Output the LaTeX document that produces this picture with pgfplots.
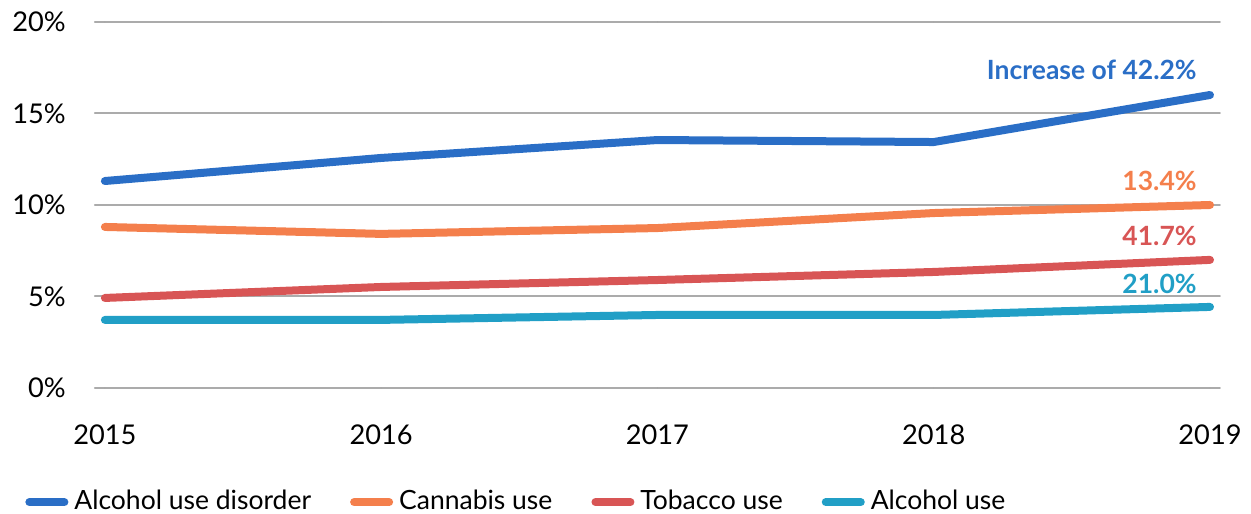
\documentclass[border=0pt]{standalone}
\usepackage{fontspec}
\setmainfont{Lato}
\usepackage{pgfplots}
\pgfplotsset{compat=1.18}
\definecolor{cAUD}{HTML}{2A6EC6}
\definecolor{cCan}{HTML}{F47F4C}
\definecolor{cTob}{HTML}{D85555}
\definecolor{cAlc}{HTML}{219FC6}
\definecolor{cGrid}{HTML}{ABABAB}
\begin{document}
\fontsize{13.25pt}{16pt}\selectfont
\begin{tikzpicture}
\begin{axis}[
  scale only axis,
  width=562.5pt, height=183pt,
  xmin=2014.964, xmax=2019.036,
  ymin=0, ymax=20,
  xtick={2015,2016,2017,2018,2019},
  ytick={0,5,10,15,20},
  yticklabel={\pgfmathprintnumber{\tick}\%},
  xticklabel style={/pgf/number format/1000 sep={}, yshift=-14pt},
  /pgf/number format/assume math mode=true,
  yticklabel style={xshift=-10pt},
  tick label style={font=\fontsize{13.6pt}{16pt}\selectfont, text=black},
  axis line style={draw=none},
  major tick length=0pt,
  ymajorgrids,
  grid style={cGrid, line width=1pt},
  line cap=round, line join=round,
  legend columns=4,
  legend style={draw=none, at={(rel axis cs:-0.0622,-0.312)}, anchor=west,
    font=\fontsize{13.25pt}{16pt}\selectfont, inner sep=0pt,
    /tikz/every odd column/.style={column sep=1pt},
    /tikz/every even column/.style={column sep=17.5pt}},
  legend image code/.code={\draw[#1, line width=4pt, line cap=round] (2pt,0pt) -- (19.5pt,0pt);},
  clip=false,
]
\addplot[cAUD, line width=4pt] coordinates {(2015,11.31) (2016,12.57) (2017,13.55) (2018,13.44) (2019,16.01)};
\addlegendentry{Alcohol use disorder}
\addplot[cCan, line width=4pt] coordinates {(2015,8.80) (2016,8.42) (2017,8.74) (2018,9.56) (2019,10.0)};
\addlegendentry{Cannabis use}
\addplot[cTob, line width=4pt] coordinates {(2015,4.92) (2016,5.52) (2017,5.90) (2018,6.34) (2019,7.0)};
\addlegendentry{Tobacco use}
\addplot[cAlc, line width=4pt] coordinates {(2015,3.72) (2016,3.72) (2017,3.99) (2018,3.99) (2019,4.43)};
\addlegendentry{Alcohol use}
\node[anchor=east, inner sep=0pt, text=cAUD, font=\fontsize{13.25pt}{16pt}\selectfont\bfseries, xshift=-6.5pt] at (axis cs:2019,17.38) {Increase of 42.2\%};
\node[anchor=east, inner sep=0pt, text=cCan, font=\fontsize{13.25pt}{16pt}\selectfont\bfseries, xshift=-6.5pt] at (axis cs:2019,11.31) {13.4\%};
\node[anchor=east, inner sep=0pt, text=cTob, font=\fontsize{13.25pt}{16pt}\selectfont\bfseries, xshift=-6.5pt] at (axis cs:2019,8.31) {41.7\%};
\node[anchor=east, inner sep=0pt, text=cAlc, font=\fontsize{13.25pt}{16pt}\selectfont\bfseries, xshift=-6.5pt] at (axis cs:2019,5.68) {21.0\%};
\coordinate (bl) at (rel axis cs:-0.0844,-0.3443);
\coordinate (tr) at (rel axis cs:1.0276,1.0601);
\end{axis}
\pgfresetboundingbox
\path[use as bounding box] (bl) rectangle (tr);
\end{tikzpicture}
\end{document}
